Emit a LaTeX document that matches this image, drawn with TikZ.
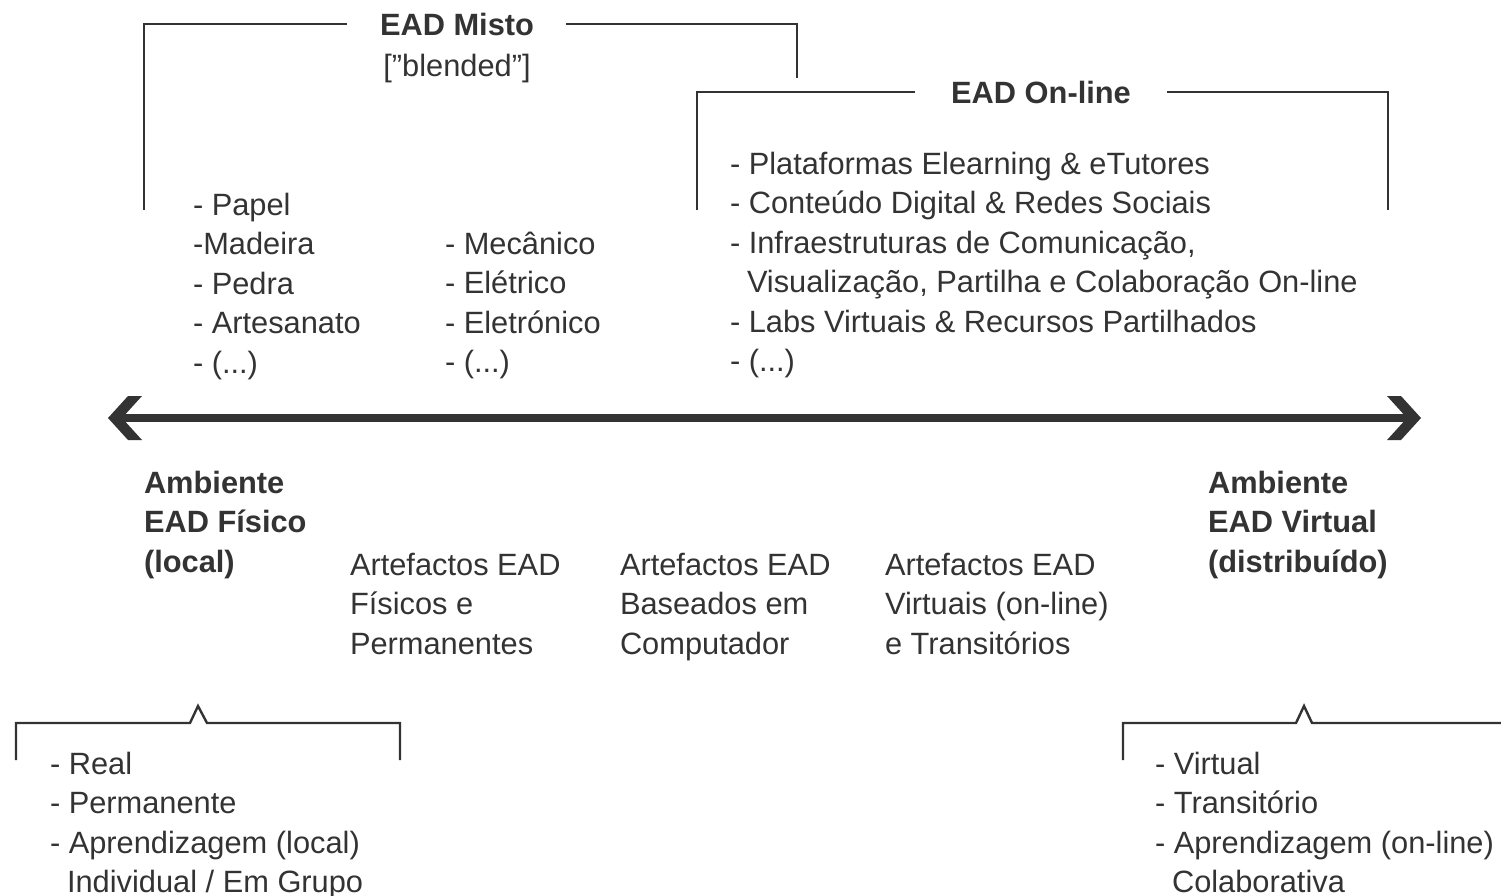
\documentclass[tikz,border=0pt]{standalone}
\usepackage{fontspec}
\setmainfont{Liberation Sans}
\definecolor{ink}{HTML}{333333}
\newcommand\fsz{\fontsize{30.8}{39.5}\selectfont}
\begin{document}
\begin{tikzpicture}[x=1pt,y=-1pt,
  txt/.style={anchor=base west,inner sep=0pt,outer sep=0pt,align=left,font=\fsz,text=ink},
  ttl/.style={anchor=base,inner sep=0pt,font=\fsz\bfseries,text=ink},
  brk/.style={draw=ink,line width=2.4pt,line join=miter},
  axis/.style={draw=ink,line width=8pt},
  tip/.style={fill=ink}]
\useasboundingbox (0,0) rectangle (1501,895);
% titles of top brackets
\node[ttl] (misto) at (457,35) {EAD Misto};
\node[anchor=base,inner sep=0pt,font=\fsz,text=ink] (blend) at (457,76) {[”blended”]};
\node[ttl] (online) at (1041,103) {EAD On-line};
% top brackets
\coordinate (m1) at (144,210); \coordinate (m2) at (347,24);
\coordinate (m3) at (566,24); \coordinate (m4) at (797,78);
\draw[brk] (m1) |- (m2);
\draw[brk] (m3) -| (m4);
\coordinate (o1) at (697,210); \coordinate (o2) at (915,92);
\coordinate (o3) at (1167,92); \coordinate (o4) at (1388,210);
\draw[brk] (o1) |- (o2);
\draw[brk] (o3) -| (o4);
% lists (base anchor = baseline of last line)
\node[txt] (c1) at (193,373) {- Papel\\-Madeira\\- Pedra\\- Artesanato\\- (...)};
\node[txt] (c2) at (445,372.5) {- Mecânico\\- Elétrico\\- Eletrónico\\- (...)};
\node[txt] (c3) at (730,371.5) {- Plataformas Elearning \& eTutores\\- Conteúdo Digital \& Redes Sociais\\- Infraestruturas de Comunicação,\\\hspace*{17pt}Visualização, Partilha e Colaboração On-line\\- Labs Virtuais \& Recursos Partilhados\\- (...)};
% axis
\coordinate (aL) at (120,418); \coordinate (aR) at (1410,418);
\draw[axis] (aL) -- (aR);
\fill[tip] (108,418) -- (128,396) -- (142,396) -- (122,418) -- (142,440) -- (128,440) -- cycle;
\fill[tip] (1421,418) -- (1401,396) -- (1387,396) -- (1407,418) -- (1387,440) -- (1401,440) -- cycle;
% labels under axis
\node[txt,font=\fsz\bfseries] (amb1) at (144,572) {Ambiente\\EAD Físico\\(local)};
\node[txt,font=\fsz\bfseries] (amb2) at (1208,572) {Ambiente\\EAD Virtual\\(distribuído)};
\node[txt] (art1) at (350,654) {Artefactos EAD\\Físicos e\\Permanentes};
\node[txt] (art2) at (620,654) {Artefactos EAD\\Baseados em\\Computador};
\node[txt] (art3) at (885,654) {Artefactos EAD\\Virtuais (on-line)\\e Transitórios};
% bottom brackets
\draw[brk] (16,760) -- (16,723) -- (190,723) -- (198,706) -- (207,723) -- (400,723) -- (400,760);
\draw[brk] (1123,760) -- (1123,723) -- (1296,723) -- (1304,706) -- (1312,723) -- (1510,723);
\node[txt] (b1) at (50,892.5) {- Real\\- Permanente\\- Aprendizagem (local)\\\hspace*{17pt}Individual / Em Grupo};
\node[txt] (b2) at (1155,892.5) {- Virtual\\- Transitório\\- Aprendizagem (on-line)\\\hspace*{17pt}Colaborativa};
\end{tikzpicture}
\end{document}
